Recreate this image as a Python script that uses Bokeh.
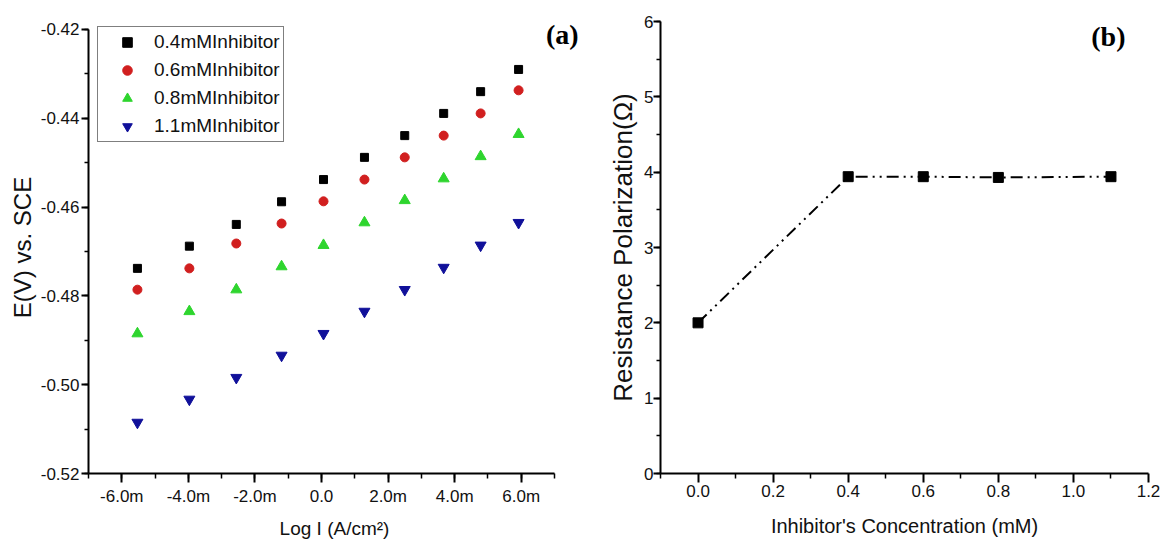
from bokeh.plotting import figure
from bokeh.layouts import row
from bokeh.models import (Range1d, SingleIntervalTicker, FixedTicker, CustomJSTickFormatter,
                          Legend, LegendItem, Label)
from bokeh.embed import file_html
from bokeh.resources import INLINE

# ---- Panel (a) data: Tafel-like scatter ----
log_i_mA = [-5.53, -3.97, -2.56, -1.20, 0.06, 1.29, 2.50, 3.67, 4.78, 5.92]
e_04 = [-0.4738, -0.4688, -0.4639, -0.4588, -0.4538, -0.4488, -0.4439, -0.4389, -0.4340, -0.4290]
e_06 = [-0.4786, -0.4738, -0.4682, -0.4637, -0.4587, -0.4538, -0.4488, -0.4439, -0.4389, -0.4337]
e_08 = [-0.4885, -0.4835, -0.4786, -0.4734, -0.4686, -0.4635, -0.4585, -0.4536, -0.4486, -0.4436]
e_11 = [-0.5085, -0.5033, -0.4984, -0.4934, -0.4885, -0.4835, -0.4786, -0.4736, -0.4686, -0.4635]
series_labels = ["0.4mMInhibitor", "0.6mMInhibitor", "0.8mMInhibitor", "1.1mMInhibitor"]

# ---- Panel (b) data ----
conc_mM = [0.0, 0.4, 0.6, 0.8, 1.1]
rp_ohm = [2.0, 3.94, 3.94, 3.93, 3.94]
conc_ticks = [0.0, 0.2, 0.4, 0.6, 0.8, 1.0, 1.2]
conc_minor_ticks = [-0.1, 0.1, 0.3, 0.5, 0.7, 0.9, 1.1]

FONT = "Liberation Sans"
H = 542
TOP, BOTTOM = 21, 69


def style_axes(p, xlab, ylab, xsize, ysize):
    p.grid.visible = False
    p.outline_line_color = None
    p.background_fill_color = "white"
    for ax in (p.xaxis[0], p.yaxis[0]):
        ax.axis_line_width = 2
        ax.axis_line_color = "black"
        ax.major_tick_line_width = 2
        ax.minor_tick_line_width = 1.5
        ax.major_tick_in = 0
        ax.minor_tick_in = 0
        ax.major_label_text_font = FONT
        ax.major_label_text_font_size = "17px"
        ax.major_label_text_color = "#111111"
        ax.axis_label_text_font = FONT
        ax.axis_label_text_font_style = "normal"
        ax.axis_label_text_color = "#111111"
    p.xaxis.axis_label_text_font_size = xsize
    p.yaxis.axis_label_text_font_size = ysize
    p.xaxis.major_tick_out = 9
    p.xaxis.minor_tick_out = 5
    p.yaxis.major_tick_out = 7
    p.yaxis.minor_tick_out = 4
    p.xaxis.axis_label = xlab
    p.yaxis.axis_label = ylab


# ---------------- Panel (a) ----------------
p1 = figure(width=580, height=H, x_range=Range1d(-7, 7.78), y_range=Range1d(-0.52, -0.4182),
            output_backend="svg", toolbar_location=None,
            min_border_left=88, min_border_right=0, min_border_top=TOP, min_border_bottom=BOTTOM)
style_axes(p1, "Log I (A/cm²)", "E(V) vs. SCE", "19px", "24px")
p1.xaxis.bounds = (-7, 7)
p1.yaxis.bounds = (-0.52, -0.42)
p1.xaxis.ticker = SingleIntervalTicker(interval=2, num_minor_ticks=2)
p1.yaxis.ticker = SingleIntervalTicker(interval=0.02, num_minor_ticks=2)
p1.xaxis.formatter = CustomJSTickFormatter(
    code="return Math.abs(tick) < 1e-9 ? '0.0' : tick.toFixed(1) + 'm';")
p1.yaxis.formatter = CustomJSTickFormatter(code="return tick.toFixed(2);")
p1.xaxis.major_label_standoff = 4
p1.yaxis.major_label_standoff = 2
p1.xaxis.axis_label_standoff = 9
p1.yaxis.axis_label_standoff = 2

r1 = p1.scatter(log_i_mA, e_04, marker="square", size=8, color="#000000")
r2 = p1.scatter(log_i_mA, e_06, marker="circle", size=9, color="#d11f1f")
r3 = p1.scatter(log_i_mA, e_08, marker="triangle", size=11, color="#2ed52e")
r4 = p1.scatter(log_i_mA, e_11, marker="inverted_triangle", size=11, color="#10109a")

legend = Legend(items=[LegendItem(label=lab, renderers=[r])
                       for lab, r in zip(series_labels, [r1, r2, r3, r4])],
                location=(9, 452 - 114 - 7), padding=3, spacing=4, glyph_width=52, glyph_height=24,
                label_standoff=1, label_text_font=FONT, label_text_font_size="19px",
                label_text_color="#111111", border_line_color="black", border_line_width=1.5,
                background_fill_alpha=1.0, margin=0)
p1.add_layout(legend, "center")

p1.add_layout(Label(x=7, y=-0.42, x_offset=24, y_offset=10, text="(a)",
                    text_font="Liberation Serif", text_font_style="bold", text_font_size="28px",
                    text_align="right", text_baseline="top", text_color="black"))

# ---------------- Panel (b) ----------------
p2 = figure(width=581, height=H, x_range=Range1d(-0.1, 1.2), y_range=Range1d(0, 6),
            output_backend="svg", toolbar_location=None,
            min_border_left=80, min_border_right=13, min_border_top=TOP, min_border_bottom=BOTTOM)
style_axes(p2, "Inhibitor's Concentration (mM)", "Resistance Polarization(Ω)", "20px", "26px")
p2.xaxis.ticker = FixedTicker(ticks=conc_ticks, minor_ticks=conc_minor_ticks)
p2.yaxis.ticker = SingleIntervalTicker(interval=1, num_minor_ticks=2)
p2.xaxis.formatter = CustomJSTickFormatter(code="return tick.toFixed(1);")
p2.yaxis.formatter = CustomJSTickFormatter(code="return tick.toFixed(0);")
p2.xaxis.major_label_standoff = 2
p2.yaxis.major_label_standoff = 0
p2.xaxis.axis_label_standoff = 15
p2.yaxis.axis_label_standoff = 3

p2.line(conc_mM, rp_ohm, line_dash="12 5 2 5 2 5", line_width=2, color="black")
p2.scatter(conc_mM, rp_ohm, marker="square", size=10, color="black")

p2.add_layout(Label(x=1.2, y=6, x_offset=-23, y_offset=1, text="(b)",
                    text_font="Liberation Serif", text_font_style="bold", text_font_size="28px",
                    text_align="right", text_baseline="top", text_color="black"))

layout = row(p1, p2)
open("out.html", "w").write(file_html(layout, INLINE))
